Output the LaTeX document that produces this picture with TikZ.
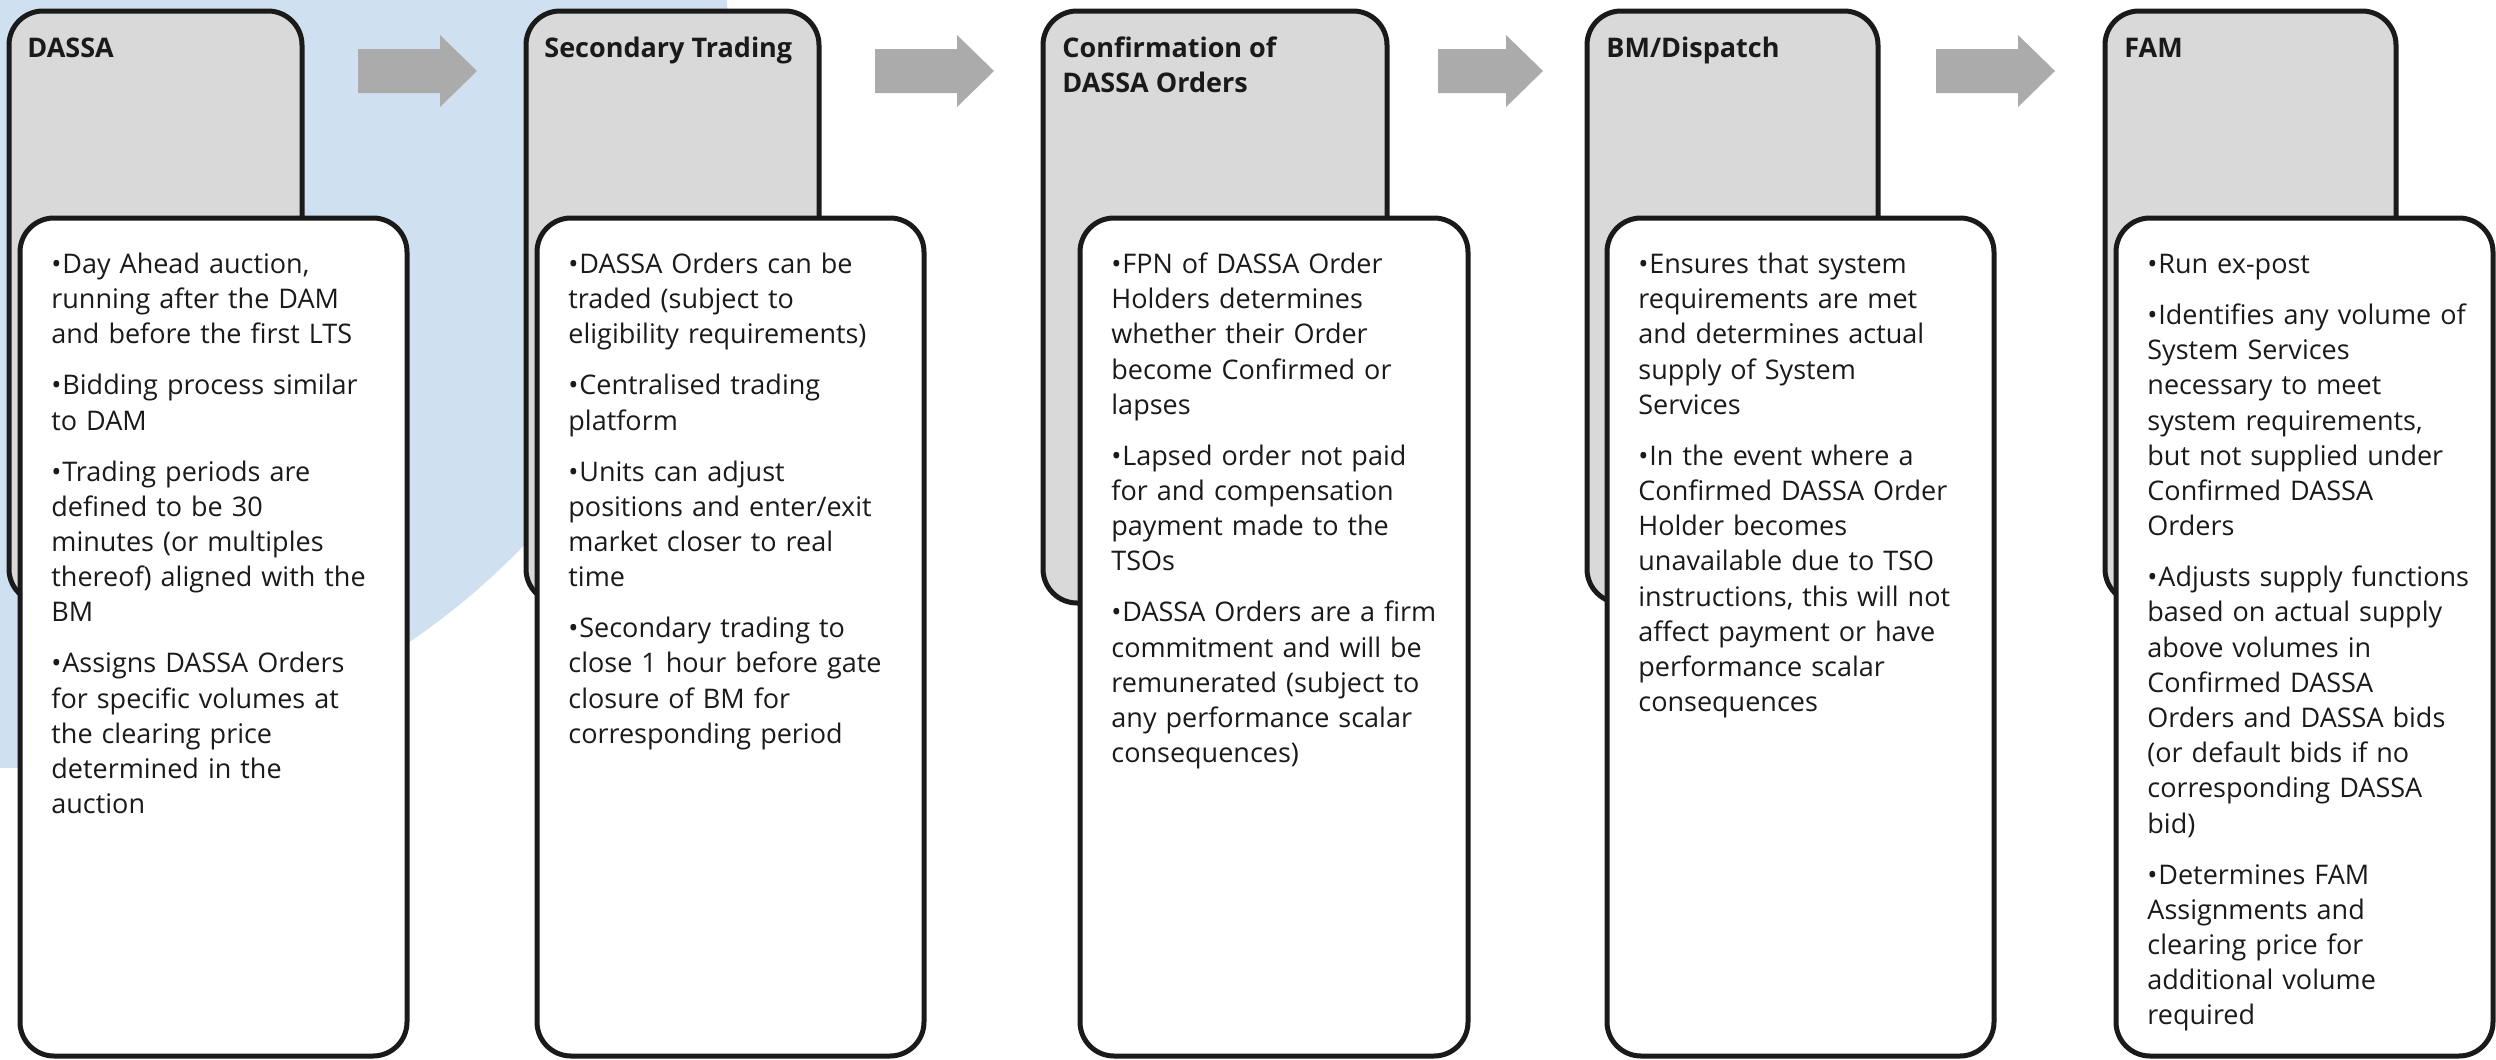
\documentclass[tikz,border=0pt]{standalone}
\usepackage{fontspec}
\setmainfont{Open Sans}
\usetikzlibrary{fit}
\definecolor{bgblue}{RGB}{207,225,240}
\definecolor{boxgray}{RGB}{217,217,217}
\definecolor{arrowgray}{RGB}{171,171,171}
\definecolor{edgecol}{RGB}{26,26,26}
\newcommand{\bitem}[1]{\noindent\hangindent=5.5pt\hangafter=1\makebox[5.5pt][l]{\strut•}#1\par}
\newcommand{\bgap}{\vspace{7.9pt}}
\tikzset{
  graybox/.style={draw=edgecol, line width=2.5pt, fill=boxgray, rounded corners=17pt, inner sep=0pt},
  whitebox/.style={draw=edgecol, line width=2.5pt, fill=white, rounded corners=17pt, inner sep=0pt},
  titletext/.style={anchor=north west, inner sep=0pt, align=left, text=edgecol, font=\bfseries\fontsize{13.5}{17.5}\selectfont},
  bodytext/.style={anchor=north west, inner sep=0pt, text width=200pt, align=left, text=edgecol, font=\fontsize{13.5}{17.6}\selectfont},
  blockarrow/.style={fill=arrowgray}
}
\begin{document}
\begin{tikzpicture}[x=0.5pt,y=-0.5pt]
\useasboundingbox (0,0) rectangle (2496,1060);
\begin{scope}
  \clip (0,0) rectangle (2496,1060);
  \fill[bgblue] (0,40) circle[radius=364pt];
\end{scope}
% gray header boxes
\node[graybox, fit={(9,11) (302,603)}] (g1) {};
\node[graybox, fit={(526,11) (819,603)}] (g2) {};
\node[graybox, fit={(1043,11) (1387,603)}] (g3) {};
\node[graybox, fit={(1587,11) (1878,603)}] (g4) {};
\node[graybox, fit={(2105,11) (2396,603)}] (g5) {};
% white content boxes
\node[whitebox, fit={(20,218) (407,1056)}] (w1) {};
\node[whitebox, fit={(537,218) (924,1056)}] (w2) {};
\node[whitebox, fit={(1080,218) (1468,1056)}] (w3) {};
\node[whitebox, fit={(1607,218) (1994,1056)}] (w4) {};
\node[whitebox, fit={(2116,218) (2493,1056)}] (w5) {};
% block arrows
\fill[blockarrow] (358,49) -- (440,49) -- (440,35) -- (477,71) -- (440,107) -- (440,93) -- (358,93) -- cycle;
\fill[blockarrow] (875,49) -- (957,49) -- (957,35) -- (994,71) -- (957,107) -- (957,93) -- (875,93) -- cycle;
\fill[blockarrow] (1438,49) -- (1506,49) -- (1506,35) -- (1543,71) -- (1506,107) -- (1506,93) -- (1438,93) -- cycle;
\fill[blockarrow] (1936,49) -- (2018,49) -- (2018,35) -- (2055,71) -- (2018,107) -- (2018,93) -- (1936,93) -- cycle;
% titles
\node[titletext] (t1) at (27,32.4) {\strut DASSA};
\node[titletext] (t2) at (544,32.4) {\strut Secondary Trading};
\node[titletext] (t3) at (1062,32.4) {\strut Confirmation of\\DASSA Orders};
\node[titletext] (t4) at (1606,32.4) {\strut BM/Dispatch};
\node[titletext] (t5) at (2124,32.4) {\strut FAM};
% body texts
\node[bodytext] (b1) at (51,248.4) {%
\bitem{Day Ahead auction,\\running after the DAM\\and before the first LTS}\bgap
\bitem{Bidding process similar\\to DAM}\bgap
\bitem{Trading periods are\\defined to be 30\\minutes (or multiples\\thereof) aligned with the\\BM}\bgap
\bitem{Assigns DASSA Orders\\for specific volumes at\\the clearing price\\determined in the\\auction}};
\node[bodytext] (b2) at (568,248.4) {%
\bitem{DASSA Orders can be\\traded (subject to\\eligibility requirements)}\bgap
\bitem{Centralised trading\\platform}\bgap
\bitem{Units can adjust\\positions and enter/exit\\market closer to real\\time}\bgap
\bitem{Secondary trading to\\close 1 hour before gate\\closure of BM for\\corresponding period}};
\node[bodytext] (b3) at (1111,248.4) {%
\bitem{FPN of DASSA Order\\Holders determines\\whether their Order\\become Confirmed or\\lapses}\bgap
\bitem{Lapsed order not paid\\for and compensation\\payment made to the\\TSOs}\bgap
\bitem{DASSA Orders are a firm\\commitment and will be\\remunerated (subject to\\any performance scalar\\consequences)}};
\node[bodytext] (b4) at (1638,248.4) {%
\bitem{Ensures that system\\requirements are met\\and determines actual\\supply of System\\Services}\bgap
\bitem{In the event where a\\Confirmed DASSA Order\\Holder becomes\\unavailable due to TSO\\instructions, this will not\\affect payment or have\\performance scalar\\consequences}};
\node[bodytext] (b5) at (2147,248.4) {%
\bitem{Run ex-post}\bgap
\bitem{Identifies any volume of\\System Services\\necessary to meet\\system requirements,\\but not supplied under\\Confirmed DASSA\\Orders}\bgap
\bitem{Adjusts supply functions\\based on actual supply\\above volumes in\\Confirmed DASSA\\Orders and DASSA bids\\(or default bids if no\\corresponding DASSA\\bid)}\bgap
\bitem{Determines FAM\\Assignments and\\clearing price for\\additional volume\\required}};
\end{tikzpicture}
\end{document}
